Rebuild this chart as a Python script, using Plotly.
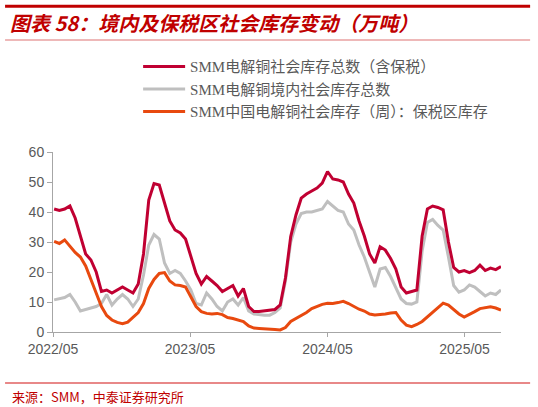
import pandas as pd
import plotly.graph_objects as go

# biweekly observations, May 2022 - Aug 2025 (万吨)
dates = pd.date_range(start="2022-05-04", periods=86, freq="14D")

total_incl_bonded = [
    41, 40.5, 41, 42, 38, 32, 26, 24, 20, 13.5,
    14, 13, 14, 15, 14, 13, 16, 26, 44, 49.5,
    49, 43, 37, 34, 33, 31, 25, 19.5, 16, 18.5,
    17, 15.5, 13.5, 14.5, 15.5, 12, 14.5, 8.5, 6.8, 6.8,
    7, 7.3, 7.5, 9, 18, 31.8, 39, 44.6, 46, 47,
    48, 49.6, 53.5, 51, 50.7, 50, 46, 43, 37, 32,
    26, 23, 28.4, 27.3, 24.5, 21, 15, 13, 13.4, 14,
    32, 41, 42, 41.5, 40.7, 30, 21.5, 20, 20.5, 19.8,
    20.5, 22.3, 20.5, 21.3, 20.8, 21.8,
]
domestic_total = [
    10.7, 11, 11.5, 12.5, 10, 7, 7.4, 8, 8.5, 9.5,
    12.5, 9, 11, 12.5, 11, 8.5, 11, 19, 29, 32.5,
    31, 23, 19.5, 20.5, 19.5, 17, 14, 9.5, 9, 13,
    11, 8.5, 7, 10, 11, 9, 11.5, 7, 6, 5.7,
    5.6, 5.6, 6.5, 8, 17, 30, 36, 39.5, 40, 40,
    40.5, 41, 43.5, 42, 40.5, 40, 36, 34, 29, 25,
    20, 15, 21, 21.5, 18.5, 15, 11, 9.5, 9.3, 10,
    27, 36.5, 37.5, 35.5, 34, 25, 15.5, 13.3, 14, 15.7,
    15, 13.5, 12, 13, 12.5, 14,
]
bonded_zone = [
    30.2, 29.5, 30.7, 28.5, 26.5, 25, 22, 17.5, 13, 8.5,
    5.5, 4, 3.2, 2.8, 3.3, 5, 6.5, 9.5, 14.5, 17.5,
    19.5, 19.8, 17, 15.7, 15.5, 15, 11.5, 8.5, 6.8, 6.2,
    6, 6.2, 5.8, 4.8, 4.5, 4, 3.5, 2, 1.3, 1.2,
    1, 0.8, 0.8, 0.7, 1.5, 3.5, 4.5, 5.3, 6.5, 7.8,
    8.5, 9.2, 9.6, 9.5, 9.8, 10.2, 9.5, 8.5, 7.6, 7,
    6, 5.7, 5.8, 6, 6.3, 6.5, 4, 2.3, 1.8, 2.5,
    3.5, 5, 6.5, 8, 9.6, 9, 7.5, 6, 5, 5.8,
    6.8, 7.8, 8, 8.4, 8, 7.3,
]

names = [
    "SMM电解铜社会库存总数（含保税）",
    "SMM电解铜境内社会库存总数",
    "SMM中国电解铜社会库存（周）：保税区库存",
]
colors = ["#C00032", "#BFBFBF", "#E8490F"]

fig = go.Figure()
fig.add_trace(go.Scatter(x=dates, y=domestic_total, mode="lines", name=names[1],
                         line=dict(color=colors[1], width=3), legendrank=2))
fig.add_trace(go.Scatter(x=dates, y=bonded_zone, mode="lines", name=names[2],
                         line=dict(color=colors[2], width=3), legendrank=3))
fig.add_trace(go.Scatter(x=dates, y=total_incl_bonded, mode="lines", name=names[0],
                         line=dict(color=colors[0], width=3), legendrank=1))

axis_font = dict(family="Arial, Liberation Sans", size=14, color="#595959")

fig.update_xaxes(
    type="date",
    range=["2022-05-01", dates[-1]],
    tick0="2022-05-01", dtick="M12", tickformat="%Y/%m",
    ticks="outside", ticklen=4, tickcolor="#A6A6A6",
    showline=True, linecolor="#A6A6A6", linewidth=1,
    showgrid=False, zeroline=False, tickfont=axis_font,
)
fig.update_yaxes(
    range=[0, 60], dtick=10,
    ticks="outside", ticklen=5, tickcolor="#A6A6A6",
    showline=True, linecolor="#A6A6A6", linewidth=1,
    showgrid=False, zeroline=False, tickfont=axis_font,
)

fig.update_layout(
    width=538, height=407,
    margin=dict(l=53, r=37, t=152, b=75),
    plot_bgcolor="white", paper_bgcolor="white",
    showlegend=True,
    legend=dict(
        x=0.19, y=1.565, xanchor="left", yanchor="top",
        font=dict(family="Liberation Serif, Noto Sans CJK SC", size=15, color="#595959"),
        itemwidth=42, tracegroupgap=0, bgcolor="rgba(0,0,0,0)",
    ),
    shapes=[
        dict(type="line", xref="paper", yref="paper", x0=-0.107, x1=1.065, y0=1.81, y1=1.81,
             line=dict(color="#C00000", width=3)),
        dict(type="line", xref="paper", yref="paper", x0=-0.107, x1=1.065, y0=1.622, y1=1.622,
             line=dict(color="#E8A0A0", width=1.5)),
        dict(type="line", xref="paper", yref="paper", x0=-0.107, x1=1.065, y0=-0.283, y1=-0.283,
             line=dict(color="#E06060", width=1.5)),
    ],
    annotations=[
        dict(text="<b><i>图表 58：境内及保税区社会库存变动（万吨）</i></b>", xref="paper", yref="paper",
             x=-0.1, y=1.722, xanchor="left", yanchor="middle", showarrow=False,
             font=dict(family="Noto Sans CJK SC", size=20, color="#C00000")),
        dict(text="来源：SMM，中泰证券研究所", xref="paper", yref="paper",
             x=-0.096, y=-0.361, xanchor="left", yanchor="middle", showarrow=False,
             font=dict(family="Noto Sans CJK SC, Arial", size=13, color="#C00000")),
    ],
)

fig.write_html("out.html", config={"displayModeBar": False},
               post_script="document.body.style.margin='0';")
